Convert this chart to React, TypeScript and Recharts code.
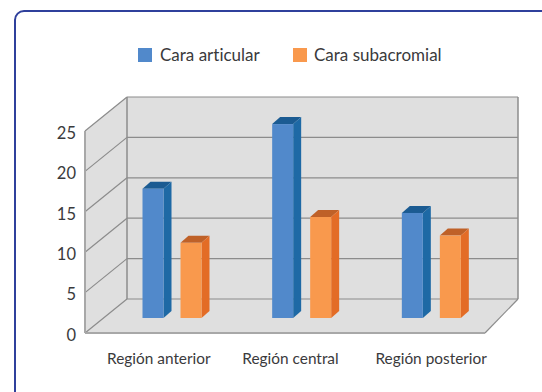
import { BarChart, Bar, XAxis, YAxis, Legend, usePlotArea } from 'recharts';

const regions = ['Región anterior', 'Región central', 'Región posterior'];
const caraArticular = [16, 24, 13];
const caraSubacromial = [9.3, 12.5, 10.2];
const yTicks = [0, 5, 10, 15, 20, 25];

const data = regions.map((region, i) => ({
  region,
  articular: caraArticular[i],
  subacromial: caraSubacromial[i],
}));

const COLORS = {
  blue: { front: '#5189CB', side: '#1E69A5', top: '#1B5B92' },
  orange: { front: '#F9994D', side: '#E36C26', top: '#BF6128' },
  wall: '#DFDFDF',
  grid: '#8C8C8C',
  edge: '#A8A8A8',
  text: '#3A3A3C',
  frame: '#2F409C',
};

const FONT = 'Lato, sans-serif';
const Y_MAX = 25;

// Room depth: how far the back wall sits from the front plane
const BACK_LEFT_DX = 42;
const BACK_RIGHT_DX = 33;
const BACK_DY = 34;

// Bars stand part way into the room
const BAR_DX = 11.5;
const BAR_DY = 15;
const BAR_DEPTH_X = 8;
const BAR_DEPTH_Y = 7;

// Category labels sit a little off their band centres
const LABEL_NUDGE = [-2, 0, 11];

const Room = () => {
  const plot = usePlotArea();
  if (!plot) return null;
  const { x, y, width, height } = plot;
  const yOf = (v: number) => y + height * (1 - v / Y_MAX);
  const left = x;
  const right = x + width;
  const backLeft = left + BACK_LEFT_DX;
  const backRight = right + BACK_RIGHT_DX;
  const bottom = yOf(0);
  const top = yOf(Y_MAX);

  return (
    <g>
      <polygon
        points={`${backLeft},${top - BACK_DY} ${backRight},${top - BACK_DY} ${backRight},${bottom - BACK_DY} ${backLeft},${bottom - BACK_DY}`}
        fill={COLORS.wall}
      />
      <polygon
        points={`${left},${top} ${backLeft},${top - BACK_DY} ${backLeft},${bottom - BACK_DY} ${left},${bottom}`}
        fill={COLORS.wall}
      />
      <polygon
        points={`${left},${bottom} ${backLeft},${bottom - BACK_DY} ${backRight},${bottom - BACK_DY} ${right},${bottom}`}
        fill={COLORS.wall}
      />
      {yTicks.map((t) => (
        <g key={t} stroke={COLORS.grid} strokeWidth={1.2} fill="none">
          <line x1={left} y1={yOf(t)} x2={backLeft} y2={yOf(t) - BACK_DY} />
          <line x1={backLeft} y1={yOf(t) - BACK_DY} x2={backRight} y2={yOf(t) - BACK_DY} />
        </g>
      ))}
      <line x1={backLeft} y1={top - BACK_DY} x2={backLeft} y2={bottom - BACK_DY} stroke={COLORS.grid} strokeWidth={1.5} />
      <line x1={backRight} y1={top - BACK_DY} x2={backRight} y2={bottom - BACK_DY} stroke={COLORS.grid} strokeWidth={1.5} />
      <line x1={right} y1={bottom} x2={backRight} y2={bottom - BACK_DY} stroke={COLORS.grid} strokeWidth={1.2} />
      <line x1={left} y1={top} x2={left} y2={bottom} stroke={COLORS.edge} strokeWidth={2} />
      <line x1={left} y1={bottom} x2={right} y2={bottom} stroke={COLORS.edge} strokeWidth={2} />
    </g>
  );
};

const Box = (palette: { front: string; side: string; top: string }) => (props: any) => {
  const x = props.x + BAR_DX;
  const y = props.y - BAR_DY;
  const { width: w, height: h } = props;
  return (
    <g>
      <polygon
        points={`${x},${y} ${x + BAR_DEPTH_X},${y - BAR_DEPTH_Y} ${x + w + BAR_DEPTH_X},${y - BAR_DEPTH_Y} ${x + w},${y}`}
        fill={palette.top}
      />
      <polygon
        points={`${x + w},${y} ${x + w + BAR_DEPTH_X},${y - BAR_DEPTH_Y} ${x + w + BAR_DEPTH_X},${y + h - BAR_DEPTH_Y} ${x + w},${y + h}`}
        fill={palette.side}
      />
      <rect x={x} y={y} width={w} height={h} fill={palette.front} />
    </g>
  );
};

const RegionTick = ({ x, y, payload, index }: any) => (
  <text
    x={x + LABEL_NUDGE[index]}
    y={y + 11}
    textAnchor="middle"
    fontFamily={FONT}
    fontSize={15.4}
    fill={COLORS.text}
  >
    {payload.value}
  </text>
);

const LegendRow = () => (
  <div
    style={{
      position: 'relative',
      fontFamily: FONT,
      fontSize: 17,
      fontVariantLigatures: 'none',
      color: COLORS.text,
      height: 20,
      lineHeight: '20px',
    }}
  >
    <span style={{ position: 'absolute', left: 138, top: 3, width: 14, height: 14, background: COLORS.blue.front }} />
    <span style={{ position: 'absolute', left: 160, top: 0, whiteSpace: 'nowrap' }}>Cara articular</span>
    <span style={{ position: 'absolute', left: 293, top: 3, width: 14, height: 14, background: COLORS.orange.front }} />
    <span style={{ position: 'absolute', left: 314, top: 0, whiteSpace: 'nowrap' }}>Cara subacromial</span>
  </div>
);

export default function App() {
  return (
    <div style={{ position: 'absolute', left: 0, top: 0, width: 542, height: 392, overflow: 'hidden', background: '#fff' }}>
      <div
        style={{
          position: 'absolute',
          left: 14,
          top: 10,
          width: 600,
          height: 500,
          border: `2px solid ${COLORS.frame}`,
          borderRadius: 10,
        }}
      />
      <BarChart
        width={542}
        height={392}
        data={data}
        margin={{ top: 111, right: 57, bottom: 0, left: 45 }}
        barSize={21}
        barGap={17}
        style={{ position: 'absolute', left: 0, top: 0 }}
      >
        <Room />
        <XAxis
          dataKey="region"
          axisLine={false}
          tickLine={false}
          height={59}
          padding={{ left: 11, right: 0 }}
          tick={<RegionTick />}
          tickMargin={14}
          interval={0}
        />
        <YAxis
          width={40}
          domain={[0, Y_MAX]}
          ticks={yTicks}
          axisLine={false}
          tickLine={false}
          tickSize={0}
          tickMargin={9}
          tick={{ fill: COLORS.text, fontSize: 16.5, fontFamily: FONT, dy: 2 }}
        />
        <Legend
          verticalAlign="top"
          wrapperStyle={{ top: 45, left: 0, width: 542 }}
          content={<LegendRow />}
        />
        <Bar dataKey="articular" name="Cara articular" fill={COLORS.blue.front} shape={Box(COLORS.blue)} isAnimationActive={false} />
        <Bar dataKey="subacromial" name="Cara subacromial" fill={COLORS.orange.front} shape={Box(COLORS.orange)} isAnimationActive={false} />
      </BarChart>
    </div>
  );
}
